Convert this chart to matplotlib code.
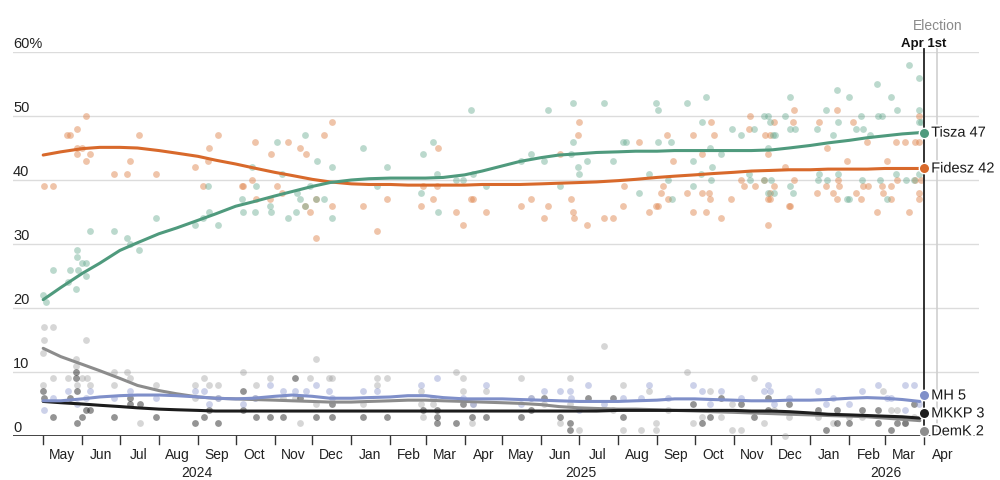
import pandas as pd
import numpy as np
import matplotlib
matplotlib.use('Agg')
import matplotlib.pyplot as plt
import matplotlib.dates as mdates
import matplotlib.transforms as mtransforms
import matplotlib.patheffects as pe

plt.rcParams['font.family'] = ['Liberation Sans', 'DejaVu Sans']

# ---- polls (date, %) ----
tisza_dates = [
    '2024-05-01', '2024-05-03', '2024-05-09', '2024-05-21', '2024-05-22', '2024-05-27', '2024-05-28', '2024-05-28',
    '2024-05-29', '2024-06-01', '2024-06-04', '2024-06-04', '2024-06-07', '2024-06-26', '2024-07-07', '2024-07-09',
    '2024-07-16', '2024-07-30', '2024-08-30', '2024-09-05', '2024-09-09', '2024-09-10', '2024-09-17', '2024-10-06',
    '2024-10-07', '2024-10-14', '2024-10-16', '2024-10-17', '2024-10-28', '2024-10-29', '2024-11-03', '2024-11-07',
    '2024-11-12', '2024-11-18', '2024-11-19', '2024-11-21', '2024-11-25', '2024-11-25', '2024-11-29', '2024-12-04',
    '2024-12-05', '2024-12-10', '2024-12-17', '2024-12-17',
    '2025-01-10', '2025-01-21', '2025-01-29', '2025-02-25', '2025-02-27', '2025-03-07', '2025-03-10', '2025-03-11',
    '2025-03-25', '2025-03-31', '2025-04-06', '2025-04-08', '2025-04-18', '2025-05-16', '2025-05-24', '2025-06-03',
    '2025-06-06', '2025-06-16', '2025-06-25', '2025-06-26', '2025-06-26', '2025-06-30', '2025-07-01', '2025-07-07',
    '2025-07-21', '2025-07-28', '2025-08-05', '2025-08-07', '2025-08-18', '2025-08-26', '2025-08-31', '2025-09-02',
    '2025-09-02', '2025-09-10', '2025-09-12', '2025-09-13', '2025-09-25', '2025-09-30', '2025-09-30', '2025-10-06',
    '2025-10-07', '2025-10-10', '2025-10-13', '2025-10-14', '2025-10-15', '2025-10-22', '2025-10-31', '2025-11-07',
    '2025-11-13', '2025-11-14', '2025-11-17', '2025-11-25', '2025-11-25', '2025-11-28', '2025-11-28', '2025-11-28',
    '2025-11-30', '2025-12-01', '2025-12-02', '2025-12-03', '2025-12-04', '2025-12-12', '2025-12-16', '2025-12-16',
    '2025-12-16', '2025-12-18', '2025-12-20',
    '2026-01-06', '2026-01-07', '2026-01-08', '2026-01-13', '2026-01-14', '2026-01-19', '2026-01-22', '2026-01-23',
    '2026-01-23', '2026-01-30', '2026-02-01', '2026-02-01', '2026-02-06', '2026-02-10', '2026-02-11', '2026-02-12',
    '2026-02-17', '2026-02-23', '2026-02-24', '2026-02-25', '2026-02-27', '2026-03-03', '2026-03-06', '2026-03-10',
    '2026-03-11', '2026-03-18', '2026-03-20', '2026-03-24', '2026-03-28', '2026-03-28', '2026-03-28', '2026-03-28',
    '2026-03-30']
tisza_vals = [
    22, 21, 26, 24, 26, 23, 29, 28, 26, 27, 27, 25, 32, 32, 31, 30,
    29, 34, 33, 34, 39, 35, 33, 37, 35, 42, 35, 39, 36, 35, 46, 41,
    34, 35, 38, 37, 47, 36, 39, 37, 43, 37, 42, 34,
    45, 39, 42, 38, 44, 46, 41, 35, 40, 40, 51, 41, 39, 43, 44, 43,
    51, 39, 44, 46, 52, 42, 41, 43, 52, 43, 46, 46, 38, 41, 52, 51,
    46, 40, 46, 37, 52, 43, 39, 41, 49, 53, 45, 40, 42, 44, 48, 47,
    41, 40, 48, 50, 40, 50, 45, 38, 49, 40, 47, 38, 47, 50, 53, 48,
    39, 38, 48,
    48, 40, 41, 51, 40, 47, 54, 49, 41, 37, 53, 37, 48, 50, 40, 48,
    47, 55, 50, 40, 50, 37, 53, 41, 51, 40, 58, 40, 56, 51, 49, 41,
    49]

fidesz_dates = [
    '2024-05-02', '2024-05-09', '2024-05-20', '2024-05-22', '2024-05-28', '2024-05-28', '2024-05-28', '2024-06-01',
    '2024-06-04', '2024-06-04', '2024-06-07', '2024-06-26', '2024-07-07', '2024-07-09', '2024-07-16', '2024-07-30',
    '2024-08-30', '2024-09-05', '2024-09-09', '2024-09-10', '2024-09-17', '2024-10-06', '2024-10-07', '2024-10-14',
    '2024-10-16', '2024-10-17', '2024-10-28', '2024-10-29', '2024-11-03', '2024-11-07', '2024-11-12', '2024-11-21',
    '2024-11-25', '2024-11-26', '2024-11-29', '2024-12-04', '2024-12-04', '2024-12-10', '2024-12-17', '2024-12-17',
    '2025-01-10', '2025-01-21', '2025-01-29', '2025-02-25', '2025-02-27', '2025-03-07', '2025-03-10', '2025-03-11',
    '2025-03-25', '2025-03-31', '2025-04-06', '2025-04-08', '2025-04-18', '2025-05-16', '2025-05-24', '2025-06-03',
    '2025-06-06', '2025-06-16', '2025-06-25', '2025-06-26', '2025-06-27', '2025-06-30', '2025-07-01', '2025-07-07',
    '2025-07-21', '2025-07-28', '2025-08-05', '2025-08-06', '2025-08-18', '2025-08-26', '2025-08-31', '2025-09-02',
    '2025-09-04', '2025-09-06', '2025-09-09', '2025-09-10', '2025-09-14', '2025-09-25', '2025-09-30', '2025-09-30',
    '2025-10-07', '2025-10-07', '2025-10-10', '2025-10-12', '2025-10-13', '2025-10-14', '2025-10-16', '2025-10-22',
    '2025-10-30', '2025-11-07', '2025-11-09', '2025-11-13', '2025-11-14', '2025-11-18', '2025-11-25', '2025-11-26',
    '2025-11-28', '2025-11-28', '2025-11-28', '2025-11-30', '2025-11-30', '2025-11-30', '2025-12-03', '2025-12-03',
    '2025-12-12', '2025-12-15', '2025-12-16', '2025-12-18', '2025-12-19', '2025-12-19',
    '2026-01-06', '2026-01-08', '2026-01-13', '2026-01-14', '2026-01-19', '2026-01-22', '2026-01-22', '2026-01-23',
    '2026-01-24', '2026-01-30', '2026-02-04', '2026-02-06', '2026-02-10', '2026-02-12', '2026-02-15', '2026-02-16',
    '2026-02-23', '2026-02-27', '2026-02-28', '2026-03-03', '2026-03-06', '2026-03-06', '2026-03-10', '2026-03-11',
    '2026-03-17', '2026-03-20', '2026-03-25', '2026-03-25', '2026-03-28', '2026-03-28', '2026-03-28', '2026-03-28',
    '2026-03-30']
fidesz_vals = [
    39, 39, 47, 47, 48, 45, 44, 45, 50, 43, 44, 41, 41, 43, 47, 41,
    42, 39, 43, 45, 47, 39, 39, 40, 46, 37, 37, 44, 39, 38, 46, 45,
    36, 44, 35, 31, 37, 47, 36, 49,
    36, 32, 37, 36, 39, 37, 39, 45, 35, 33, 37, 37, 35, 36, 37, 34,
    36, 44, 37, 35, 34, 47, 49, 33, 34, 34, 36, 39, 46, 35, 36, 36,
    38, 39, 47, 37, 43, 38, 47, 35, 44, 38, 35, 38, 37, 49, 47, 34,
    37, 40, 39, 48, 50, 39, 40, 47, 37, 33, 44, 37, 38, 47, 49, 39,
    42, 36, 36, 49, 51, 40,
    38, 49, 39, 45, 38, 37, 51, 40, 39, 43, 49, 38, 37, 39, 46, 39,
    35, 39, 38, 43, 37, 39, 46, 40, 46, 35, 46, 40, 46, 38, 37, 50,
    40]

mh_dates = [
    '2024-05-02', '2024-05-09', '2024-05-21', '2024-05-28', '2024-06-04', '2024-06-07', '2024-06-26', '2024-07-09',
    '2024-07-30', '2024-08-30', '2024-09-06', '2024-09-10', '2024-09-17', '2024-10-07', '2024-10-16', '2024-10-28',
    '2024-11-08', '2024-11-17', '2024-11-26', '2024-12-04', '2024-12-14', '2024-12-17',
    '2025-01-10', '2025-01-21', '2025-02-25', '2025-03-07', '2025-03-10', '2025-03-31', '2025-04-08', '2025-04-18',
    '2025-05-16', '2025-05-24', '2025-06-03', '2025-06-16', '2025-06-24', '2025-06-25', '2025-07-01', '2025-07-08',
    '2025-07-21', '2025-08-05', '2025-08-19', '2025-08-26', '2025-09-10', '2025-09-30', '2025-10-07', '2025-10-13',
    '2025-10-22', '2025-11-07', '2025-11-25', '2025-11-28', '2025-11-30', '2025-12-03', '2025-12-15',
    '2026-01-07', '2026-01-13', '2026-01-19', '2026-02-01', '2026-02-11', '2026-02-24', '2026-03-03', '2026-03-06',
    '2026-03-17', '2026-03-17', '2026-03-24', '2026-03-28']
mh_vals = [
    4, 6, 7, 5, 6, 7, 6, 7, 6, 7, 7, 5, 6, 5, 6, 8,
    7, 7, 7, 8, 7, 6,
    7, 7, 8, 6, 9, 6, 5, 8, 5, 6, 7, 7, 7, 6, 4, 8,
    5, 6, 6, 8, 6, 8, 7, 5, 7, 6, 7, 8, 7, 5, 6,
    7, 5, 6, 5, 7, 8, 6, 6, 8, 4, 8, 5]

mkkp_dates = [
    '2024-05-01', '2024-05-02', '2024-05-09', '2024-05-22', '2024-05-27', '2024-05-27', '2024-05-28', '2024-05-28',
    '2024-06-01', '2024-06-04', '2024-06-07', '2024-06-26', '2024-07-09', '2024-07-09', '2024-07-17', '2024-07-30',
    '2024-08-30', '2024-09-06', '2024-09-10', '2024-09-17', '2024-10-07', '2024-10-07', '2024-10-17', '2024-10-28',
    '2024-11-08', '2024-11-17', '2024-11-21', '2024-12-04', '2024-12-17', '2024-12-17',
    '2025-01-10', '2025-01-29', '2025-02-27', '2025-03-10', '2025-03-10', '2025-03-10', '2025-03-25', '2025-03-31',
    '2025-04-07', '2025-04-18', '2025-05-16', '2025-05-24', '2025-06-03', '2025-06-16', '2025-06-24', '2025-06-24',
    '2025-07-08', '2025-07-28', '2025-08-05', '2025-09-30', '2025-10-07', '2025-10-13', '2025-10-22', '2025-11-07',
    '2025-11-17', '2025-11-28', '2025-11-28', '2025-12-15',
    '2026-01-07', '2026-01-13', '2026-01-22', '2026-01-22', '2026-02-01', '2026-02-11', '2026-02-24', '2026-02-24',
    '2026-03-06', '2026-03-11', '2026-03-17', '2026-03-24']
mkkp_vals = [
    7, 6, 3, 6, 10, 9, 7, 2, 3, 4, 4, 3, 6, 5, 5, 3,
    2, 3, 4, 2, 7, 4, 3, 3, 3, 9, 6, 3, 5, 3,
    3, 3, 4, 4, 3, 2, 2, 5, 3, 3, 3, 4, 6, 3, 2, 1,
    6, 6, 3, 5, 2, 3, 6, 5, 3, 6, 4, 5,
    4, 1, 2, 4, 2, 4, 2, 4, 1, 2, 2, 5]

demk_dates = [
    '2024-05-01', '2024-05-01', '2024-05-02', '2024-05-02', '2024-05-09', '2024-05-09', '2024-05-21', '2024-05-27',
    '2024-05-27', '2024-05-28', '2024-06-01', '2024-06-04', '2024-06-05', '2024-06-07', '2024-06-26', '2024-06-26',
    '2024-07-07', '2024-07-09', '2024-07-17', '2024-07-30', '2024-08-30', '2024-08-30', '2024-09-06', '2024-09-10',
    '2024-09-17', '2024-09-17', '2024-10-07', '2024-10-16', '2024-10-17', '2024-10-28', '2024-11-08', '2024-11-17',
    '2024-11-21', '2024-11-29', '2024-12-04', '2024-12-04', '2024-12-14', '2024-12-17',
    '2025-01-10', '2025-01-21', '2025-01-21', '2025-01-29', '2025-02-25', '2025-02-25', '2025-02-27', '2025-03-07',
    '2025-03-25', '2025-03-31', '2025-03-31', '2025-04-07', '2025-04-08', '2025-04-18', '2025-05-16', '2025-05-24',
    '2025-06-03', '2025-06-16', '2025-06-24', '2025-06-24', '2025-07-01', '2025-07-21', '2025-07-28', '2025-08-05',
    '2025-08-05', '2025-08-19', '2025-08-26', '2025-08-31', '2025-08-31', '2025-09-10', '2025-09-25', '2025-09-30',
    '2025-10-07', '2025-10-13', '2025-10-22', '2025-10-31', '2025-10-31', '2025-11-07', '2025-11-17', '2025-11-25',
    '2025-12-03', '2025-12-12', '2025-12-15',
    '2026-01-07', '2026-01-19', '2026-02-01', '2026-02-11', '2026-02-28', '2026-03-06', '2026-03-11', '2026-03-17',
    '2026-03-24']
demk_vals = [
    13, 8, 17, 15, 17, 9, 9, 12, 11, 8, 9, 15, 9, 8, 10, 8,
    10, 9, 2, 8, 8, 6, 9, 8, 8, 6, 10, 6, 8, 9, 6, 6,
    2, 9, 12, 5, 9, 9,
    5, 9, 8, 9, 7, 5, 3, 5, 10, 9, 7, 2, 5, 7, 9, 6,
    5, 2, 9, 5, 1, 14, 4, 8, 1, 1, 7, 2, 1, 4, 10, 2,
    3, 7, 3, 5, 1, 1, 9, 2, 4, 0, 3,
    3, 2, 3, 3, 7, 4, 4, 2, 3]

# ---- smoothed averages, read on the 1st and 15th of each month ----
trend_dates = ['2024-05-01', '2024-05-15', '2024-06-01', '2024-06-15', '2024-07-01', '2024-07-15', '2024-08-01',
               '2024-08-15', '2024-09-01', '2024-09-15', '2024-10-01', '2024-10-15', '2024-11-01', '2024-11-15',
               '2024-12-01', '2024-12-15', '2025-01-01', '2025-01-15', '2025-02-01', '2025-02-15', '2025-03-01',
               '2025-03-15', '2025-04-01', '2025-04-15', '2025-05-01', '2025-05-15', '2025-06-01', '2025-06-15',
               '2025-07-01', '2025-07-15', '2025-08-01', '2025-08-15', '2025-09-01', '2025-09-15', '2025-10-01',
               '2025-10-15', '2025-11-01', '2025-11-15', '2025-12-01', '2025-12-15', '2026-01-01', '2026-01-15',
               '2026-02-01', '2026-02-15', '2026-03-01', '2026-03-15', '2026-03-29']
tisza_trend = [21.3, 23.2, 25.4, 27.0, 29.0, 30.2, 31.6, 32.5, 33.7, 34.7, 35.9, 36.6, 37.5, 38.2, 39.0, 39.6,
               40.0, 40.2, 40.3, 40.3, 40.3, 40.4, 40.8, 41.4, 42.2, 42.9, 43.5, 43.9, 44.1, 44.3, 44.4, 44.5,
               44.5, 44.6, 44.6, 44.6, 44.6, 44.6, 44.7, 45.0, 45.4, 45.8, 46.2, 46.6, 46.9, 47.2, 47.4]
fidesz_trend = [43.9, 44.4, 44.9, 45.1, 45.1, 45.0, 44.6, 44.2, 43.7, 43.1, 42.5, 41.9, 41.2, 40.7, 40.1, 39.7,
                39.4, 39.3, 39.3, 39.2, 39.2, 39.2, 39.2, 39.3, 39.3, 39.3, 39.4, 39.5, 39.6, 39.7, 39.9, 40.1,
                40.4, 40.6, 40.8, 41.0, 41.2, 41.4, 41.5, 41.6, 41.6, 41.7, 41.7, 41.7, 41.8, 41.8, 41.8]
mh_trend = [5.5, 5.5, 5.8, 6.1, 6.3, 6.4, 6.4, 6.3, 6.1, 5.9, 5.8, 5.9, 6.2, 6.4, 6.2, 5.9,
            5.9, 6.0, 6.1, 6.3, 6.3, 6.0, 5.8, 5.8, 5.8, 5.7, 5.6, 5.5, 5.4, 5.4, 5.4, 5.5,
            5.6, 5.8, 5.8, 5.7, 5.6, 5.5, 5.5, 5.6, 5.6, 5.7, 5.9, 6.0, 5.9, 5.7, 5.4]
mkkp_trend = [5.4, 5.2, 5.0, 4.8, 4.6, 4.4, 4.2, 4.1, 4.0, 3.9, 3.9, 3.9, 3.9, 3.9, 3.9, 3.9,
              3.9, 3.9, 3.9, 3.9, 3.9, 3.9, 3.9, 3.9, 3.9, 3.9, 3.9, 3.9, 3.9, 3.9, 4.0, 4.0,
              4.0, 4.0, 4.0, 4.0, 4.0, 3.9, 3.9, 3.8, 3.6, 3.4, 3.3, 3.2, 3.1, 3.0, 2.8]
demk_trend = [13.7, 12.4, 11.2, 10.2, 9.0, 7.9, 7.1, 6.6, 6.1, 5.9, 5.8, 5.7, 5.6, 5.5, 5.4, 5.3,
              5.3, 5.4, 5.5, 5.6, 5.6, 5.5, 5.4, 5.3, 5.2, 5.1, 4.9, 4.6, 4.4, 4.3, 4.2, 4.2,
              4.1, 4.0, 3.9, 3.8, 3.7, 3.6, 3.5, 3.4, 3.3, 3.2, 3.1, 3.0, 2.8, 2.6, 2.4]

parties = [
    # name, poll dates, poll values, trend, line colour, dot colour, dot alpha
    ('DemK', demk_dates, demk_vals, demk_trend, '#8c8c8c', '#9a9a9a', 0.4),
    ('MKKP', mkkp_dates, mkkp_vals, mkkp_trend, '#1c1c1c', '#2a2a2a', 0.5),
    ('MH', mh_dates, mh_vals, mh_trend, '#7f8fc9', '#8e9ad0', 0.45),
    ('Fidesz', fidesz_dates, fidesz_vals, fidesz_trend, '#d8692b', '#e08a55', 0.5),
    ('Tisza', tisza_dates, tisza_vals, tisza_trend, '#4f9a7d', '#6aab92', 0.45),
]

last_day = pd.Timestamp('2026-04-01')
election = pd.Timestamp('2026-04-12')


def num(d):
    return mdates.date2num(pd.to_datetime(d))


def dodge(values, gap):
    # spread end labels apart, keeping each cluster centred on its mean
    order = sorted(range(len(values)), key=lambda i: -values[i])
    clusters = [[i] for i in order]
    while True:
        pos = {}
        for c in clusters:
            mid = np.mean([values[i] for i in c])
            for k, i in enumerate(c):
                pos[i] = mid + gap * ((len(c) - 1) / 2 - k)
        merged = False
        for j in range(len(clusters) - 1):
            if pos[clusters[j][-1]] - pos[clusters[j + 1][0]] < gap:
                clusters[j] = clusters[j] + clusters[j + 1]
                del clusters[j + 1]
                merged = True
                break
        if not merged:
            return pos


fig = plt.figure(figsize=(10, 4.81), dpi=100)
ax = fig.add_axes([0.013, 44 / 481, 0.966, 384 / 481])
ax.set_xlim(num('2024-04-07'), num('2026-05-15'))
ax.set_ylim(0, 60)
ax.axis('off')

ytrans = mtransforms.blended_transform_factory(ax.transAxes, ax.transData)
for v in range(10, 70, 10):
    ax.axhline(v, color='#dcdcdc', lw=1, zorder=0)
for v in range(0, 70, 10):
    ax.text(0, v + 0.75, f'{v}%' if v == 60 else str(v), transform=ytrans,
            fontsize=10.5, color='#222222', va='baseline', ha='left')
ax.axhline(0, color='#222222', lw=1.2, zorder=1)

# month ticks and labels
months = pd.date_range('2024-05-01', '2026-04-01', freq='MS')
for m in months:
    ax.plot([num(m), num(m)], [0, -1.3], color='#333333', lw=1, clip_on=False)
    ax.text(num(m + pd.Timedelta(days=15)), -3.5, m.strftime('%b'), ha='center',
            va='baseline', fontsize=10, color='#222222', clip_on=False)
for yr in [2024, 2025, 2026]:
    ms = [m for m in months if m.year == yr]
    start, end = ms[0], ms[-1] + pd.offsets.MonthBegin(1)
    ax.text((num(start) + num(end)) / 2, -6.2, str(yr), ha='center', va='baseline',
            fontsize=10, color='#222222', clip_on=False)

# polls and averages
for name, d, v, trend, lc, dc, a in parties:
    ax.scatter(num(d), v, s=24, color=dc, alpha=a, lw=0, zorder=2, clip_on=False)
for name, d, v, trend, lc, dc, a in parties:
    ax.plot(num(trend_dates), trend, color=lc, lw=2.2, zorder=4, solid_capstyle='round')

# reference lines
ax.plot([num(election)] * 2, [0, 60.4], color='#cfcfcf', lw=1.2, clip_on=False, zorder=1)
ax.text(num(election), 63.6, 'Election', ha='center', va='baseline', fontsize=10,
        color='#8a8a8a', clip_on=False)
ax.plot([num(last_day)] * 2, [0, 60.4], color='#222222', lw=1.3, clip_on=False, zorder=5)
ax.text(num(last_day), 60.9, 'Apr 1st', ha='center', va='baseline', fontsize=9.5,
        fontweight='bold', color='#111111', clip_on=False)

# end markers with labels
ends = [p[3][-1] for p in parties]
pos = dodge(ends, 2.8)
halo = [pe.withStroke(linewidth=3, foreground='white')]
for i, (name, d, v, trend, lc, dc, a) in enumerate(parties):
    ax.plot(num(last_day), pos[i], 'o', ms=7.5, color=lc, mec='white', mew=1,
            zorder=6, clip_on=False)
    ax.text(num(last_day) + 6.0, pos[i], f'{name} {round(ends[i])}', va='center',
            ha='left', fontsize=10.5, color='#1a1a1a', clip_on=False, zorder=7,
            path_effects=halo)

fig.savefig('out.png', dpi=100, facecolor='white')
